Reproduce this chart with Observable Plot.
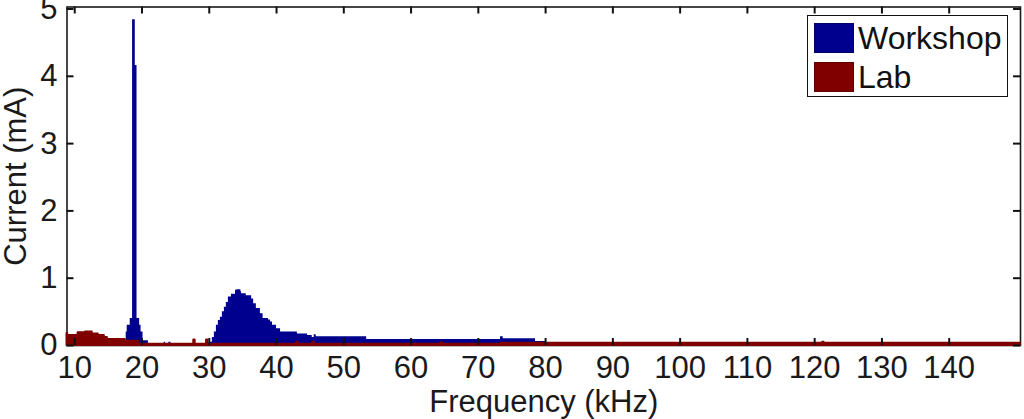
<!DOCTYPE html>
<html>
<head>
<meta charset="utf-8">
<script src="https://cdn.jsdelivr.net/npm/d3@7"></script>
<script src="https://cdn.jsdelivr.net/npm/@observablehq/plot@0.6"></script>
<style>
  html, body { margin: 0; padding: 0; background: #fff; }
  #wrap { position: relative; width: 1024px; height: 419px; font-family: "Liberation Sans", Arial, sans-serif; }
  #legend { position: absolute; left: 807px; top: 15px; width: 199px; height: 80px; border: 1.5px solid #111; background: #fff; }
  .item { position: absolute; left: 6px; display: flex; align-items: center; font-size: 32px; color: #111; line-height: 1; }
  .sw { width: 40px; height: 30px; margin-right: 4px; box-sizing: border-box; border: 1px solid rgba(0,0,0,0.25); }
</style>
</head>
<body>
<div id="wrap"></div>
<script>
// Series names and colours
const seriesNames = ["Workshop", "Lab"];
const seriesColors = ["#00008f", "#800000"];

// Workshop spectrum (step start frequency in kHz, current in mA)
const workshopFreq = [8.85, 16.6, 17.65, 17.8, 18.25, 18.6, 19.0, 19.26, 19.65, 19.86, 20.15, 20.95,
  23.3, 23.5, 24.0, 24.3,
  30.16, 30.46, 30.76, 31.06, 31.35, 31.65, 31.95, 32.25, 32.54, 32.84, 33.3, 33.9, 34.1, 34.7, 34.8,
  35.5, 36.3, 36.6, 37.0, 37.6, 38.0, 38.8, 39.1, 39.4, 40.0, 40.6, 43.1, 44.6, 45.3, 45.6, 45.9,
  53.4, 73.3, 73.7, 78.5, 80.0,
  98.1, 99.6, 100.4, 105.4, 105.8, 106.1, 128.6, 128.9, 137.6, 140.2, 150.6];
const workshopVal = [0.05, 0.075, 0.2, 0.3, 0.4, 4.84, 4.16, 0.4, 0.3, 0.2, 0.07, 0,
  0.05, 0, 0.05, 0,
  0.05, 0.12, 0.2, 0.3, 0.37, 0.42, 0.5, 0.57, 0.64, 0.72, 0.76, 0.82, 0.83, 0.8, 0.77,
  0.74, 0.69, 0.62, 0.55, 0.47, 0.4, 0.38, 0.35, 0.3, 0.25, 0.2, 0.17, 0.15, 0.12, 0.16, 0.13,
  0.09, 0.13, 0.1, 0.06, 0,
  0.045, 0, 0.045, 0, 0.045, 0, 0.04, 0, 0.045, 0, 0];

// Lab spectrum
const labFreq = [8.85, 8.95, 10.5, 11.6, 12.6, 13.5, 14.4, 14.85, 17.5, 19.5, 27.7, 27.9, 29.6, 29.8,
  43.0, 43.2, 45.4, 45.6, 64.5, 64.7, 73.3, 121.2, 121.4, 150.6];
const labVal = [0.18, 0.15, 0.19, 0.2, 0.17, 0.15, 0.12, 0.09, 0.065, 0.02, 0.08, 0.02, 0.08, 0.02,
  0.05, 0.02, 0.05, 0.02, 0.04, 0.02, 0.035, 0.05, 0.035, 0.035];

// Axis ticks
const xTicks = [10, 20, 30, 40, 50, 60, 70, 80, 90, 100, 110, 120, 130, 140];
const yTicks = [0, 1, 2, 3, 4, 5];
const xDomain = [8.85, 150.6];
const yDomain = [0, 5.03];

const workshop = workshopFreq.map((f, i) => ({f, v: workshopVal[i]}));
const lab = labFreq.map((f, i) => ({f, v: labVal[i]}));
const fmt = d => String(d);

// inward tick marks (about 7px long), expressed through the scales' domains
const xTickLen = (yDomain[1] - yDomain[0]) * 7 / 338.5;
const yTickLen = (xDomain[1] - xDomain[0]) * 7 / 953.5;
const xTickRows = xTicks.map(x => ({x, b0: yDomain[0], b1: yDomain[0] + xTickLen, t0: yDomain[1], t1: yDomain[1] - xTickLen}));
const yTickRows = yTicks.map(y => ({y, l0: xDomain[0], l1: xDomain[0] + yTickLen, r0: xDomain[1], r1: xDomain[1] - yTickLen}));
const tickStyle = {stroke: "#111", strokeWidth: 2};

const chart = Plot.plot({
  width: 1024,
  height: 419,
  marginLeft: 66.5,
  marginRight: 4,
  marginTop: 6.5,
  marginBottom: 74,
  style: {fontFamily: "'Liberation Sans', Arial, sans-serif", fontSize: "31px", color: "#1a1a1a", background: "#fff", overflow: "visible"},
  x: {domain: xDomain},
  y: {domain: yDomain},
  marks: [
    Plot.frame({stroke: "#1a1a1a", strokeWidth: 1.6}),
    Plot.areaY(workshop, {x: "f", y: "v", curve: "step-after", fill: seriesColors[0]}),
    Plot.areaY(lab, {x: "f", y: "v", curve: "step-after", fill: seriesColors[1], stroke: seriesColors[1], strokeWidth: 2}),
    Plot.ruleX(xTickRows, {x: "x", y1: "b0", y2: "b1", ...tickStyle}),
    Plot.ruleX(xTickRows, {x: "x", y1: "t0", y2: "t1", ...tickStyle}),
    Plot.ruleY(yTickRows, {y: "y", x1: "l0", x2: "l1", ...tickStyle}),
    Plot.ruleY(yTickRows, {y: "y", x1: "r0", x2: "r1", ...tickStyle}),
    Plot.axisX(xTicks, {anchor: "bottom", tickSize: 0, tickPadding: 10, tickFormat: fmt, label: "Frequency (kHz)", labelAnchor: "center", labelOffset: 66, labelArrow: "none"}),
    Plot.axisY(yTicks, {anchor: "left", tickSize: 0, tickPadding: 9.5, tickFormat: fmt, label: "Current (mA)", labelAnchor: "center", labelOffset: 63.5, labelArrow: "none"})
  ]
});

const wrap = document.getElementById("wrap");
wrap.appendChild(chart);

const legend = document.createElement("div");
legend.id = "legend";
seriesNames.forEach((name, i) => {
  const item = document.createElement("div");
  item.className = "item";
  item.style.top = (6 + i * 38.5) + "px";
  const sw = document.createElement("div");
  sw.className = "sw";
  sw.style.background = seriesColors[i];
  const t = document.createElement("span");
  t.textContent = name;
  item.appendChild(sw);
  item.appendChild(t);
  legend.appendChild(item);
});
wrap.appendChild(legend);
</script>
</body>
</html>
